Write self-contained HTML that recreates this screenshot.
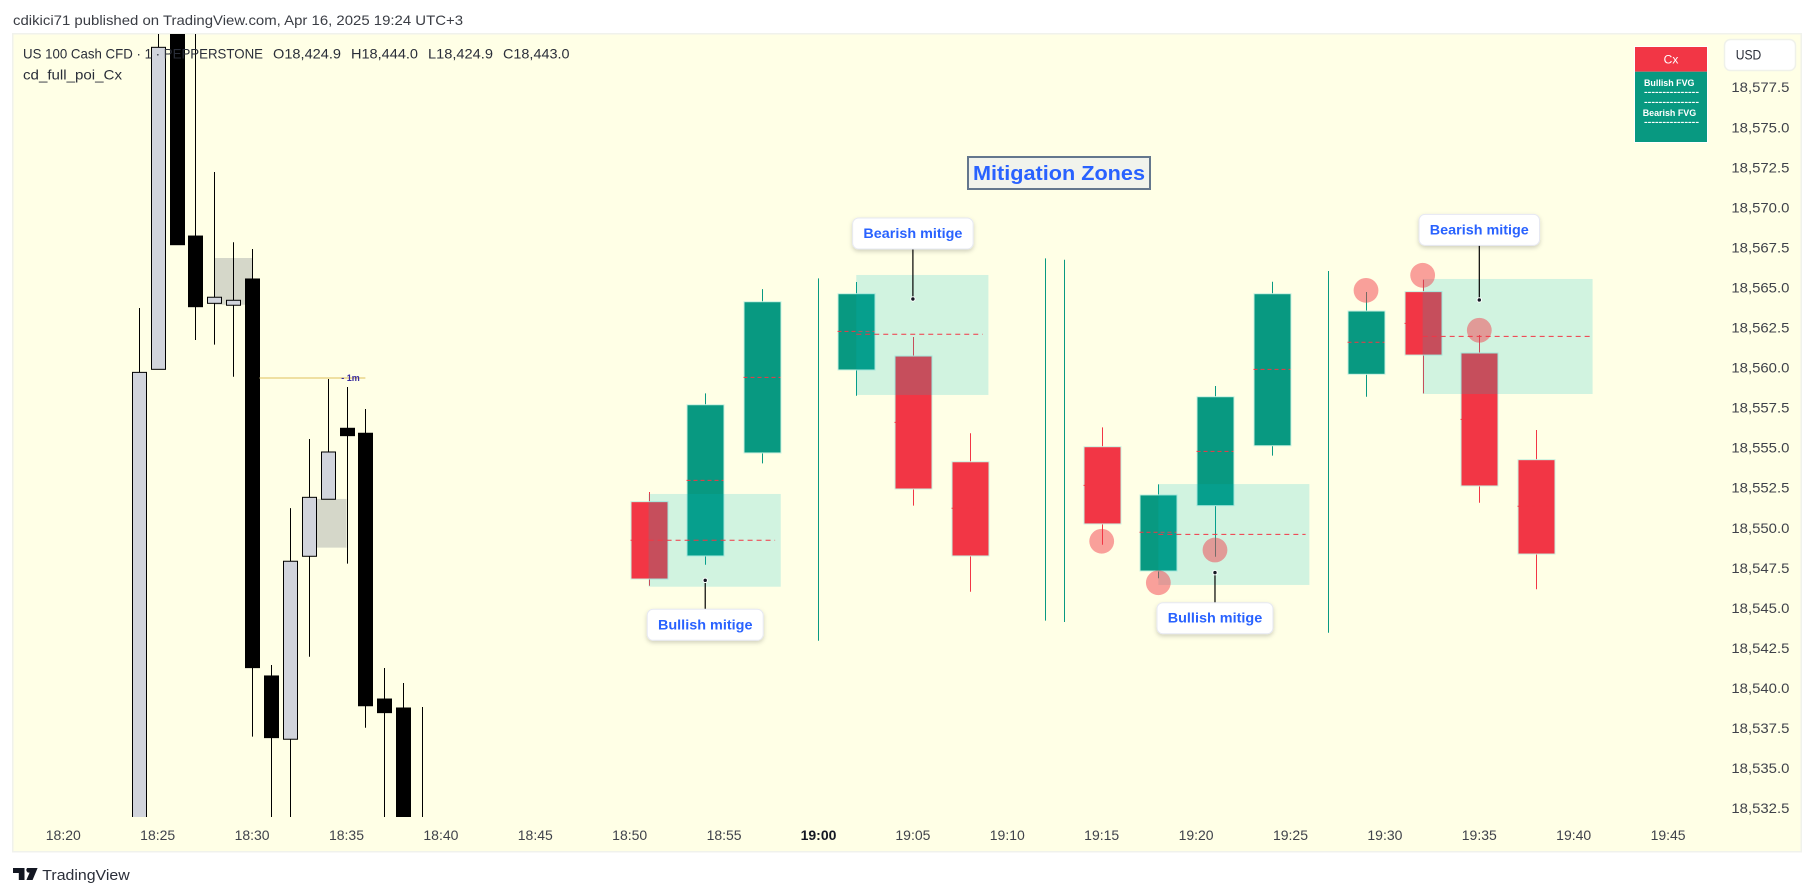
<!DOCTYPE html>
<html lang="en">
<head>
<meta charset="utf-8">
<title>Mitigation Zones chart</title>
<style>
html,body{margin:0;padding:0;background:#fff;width:1814px;height:896px;overflow:hidden}
svg{display:block;font-family:"Liberation Sans",sans-serif}
</style>
</head>
<body>
<svg id="chart" xmlns="http://www.w3.org/2000/svg" width="1814" height="896" viewBox="0 0 1814 896">
  <defs>
    <clipPath id="plot-clip"><rect x="13" y="34" width="1788" height="783"/></clipPath>
    <filter id="soft-shadow" x="-20%" y="-30%" width="140%" height="170%">
      <feDropShadow dx="0" dy="2" stdDeviation="2" flood-color="#000" flood-opacity="0.18"/>
    </filter>
  </defs>
  <text x="13" y="25" font-size="14" fill="#3a3d44" textLength="450" lengthAdjust="spacingAndGlyphs">cdikici71 published on TradingView.com, Apr 16, 2025 19:24 UTC+3</text>
  <rect x="12.75" y="33.75" width="1788.5" height="818" fill="#ffffe6" stroke="#f0f2ec" stroke-width="1.5"/>
  <g id="left-layer" clip-path="url(#plot-clip)"></g>
  <g id="right-layer" clip-path="url(#plot-clip)"></g>
  <g id="zone-layer" clip-path="url(#plot-clip)"></g>
  <g id="marker-layer" clip-path="url(#plot-clip)"></g>
  <g id="callout-layer"></g>
  <g id="y-axis"></g>
  <g id="x-axis"></g>

  <g font-size="14" fill="#2a2e39">
    <text x="23" y="58.5" textLength="240" lengthAdjust="spacingAndGlyphs">US 100 Cash CFD · 1 · PEPPERSTONE</text>
    <text x="273" y="58.5" textLength="68" lengthAdjust="spacingAndGlyphs">O18,424.9</text>
    <text x="351" y="58.5" textLength="67" lengthAdjust="spacingAndGlyphs">H18,444.0</text>
    <text x="428" y="58.5" textLength="65" lengthAdjust="spacingAndGlyphs">L18,424.9</text>
    <text x="503" y="58.5" textLength="66.5" lengthAdjust="spacingAndGlyphs">C18,443.0</text>
    <text x="23" y="79.5" textLength="99" lengthAdjust="spacingAndGlyphs">cd_full_poi_Cx</text>
  </g>

  <g>
    <rect x="968" y="157" width="182" height="32" fill="#f1f3ec" stroke="#64778d" stroke-width="2"/>
    <text x="973" y="180" font-size="20" font-weight="700" fill="#2962ff" textLength="172" lengthAdjust="spacingAndGlyphs">Mitigation Zones</text>
  </g>

  <g>
    <rect x="1634" y="46" width="74" height="97" fill="#fff"/>
    <rect x="1635" y="47" width="72" height="24.7" fill="#f23645"/>
    <rect x="1635" y="71.7" width="72" height="70.3" fill="#089981"/>
    <text x="1671" y="63.5" font-size="12" fill="#fff" text-anchor="middle">Cx</text>
    <g font-size="9" font-weight="700" fill="#fff">
      <text x="1644" y="86" textLength="50.5" lengthAdjust="spacingAndGlyphs">Bullish FVG</text>
      <text x="1644" y="95" textLength="55" lengthAdjust="spacingAndGlyphs">---------------</text>
      <text x="1644" y="105" textLength="55" lengthAdjust="spacingAndGlyphs">---------------</text>
      <text x="1642.7" y="116" textLength="53.5" lengthAdjust="spacingAndGlyphs">Bearish FVG</text>
      <text x="1644" y="125" textLength="55" lengthAdjust="spacingAndGlyphs">---------------</text>
    </g>
  </g>

  <g>
    <rect x="1724.5" y="39.5" width="71" height="31" rx="6" fill="#fff" stroke="#eff1ea" stroke-width="1.5"/>
    <text x="1735.7" y="59.5" font-size="14" fill="#2a2e39" textLength="25.6" lengthAdjust="spacingAndGlyphs">USD</text>
  </g>

  <g>
    <path d="M13 868h11.5v12h-5.7v-7H13zM27.2 868h10.4l-5 12h-6.2l3.2-7.4a2.7 2.7 0 0 1-2.4-4.6z" fill="#131722"/>
    <text x="42.3" y="880" font-size="15" fill="#2a2e39" textLength="87.4" lengthAdjust="spacingAndGlyphs">TradingView</text>
  </g>
</svg>

<script>
/* Price axis tick labels */
const priceTicks = [18577.5, 18575.0, 18572.5, 18570.0, 18567.5, 18565.0, 18562.5, 18560.0, 18557.5, 18555.0, 18552.5, 18550.0, 18547.5, 18545.0, 18542.5, 18540.0, 18537.5, 18535.0, 18532.5];
/* Time axis tick labels */
const timeTicks = ["18:20", "18:25", "18:30", "18:35", "18:40", "18:45", "18:50", "18:55", "19:00", "19:05", "19:10", "19:15", "19:20", "19:25", "19:30", "19:35", "19:40", "19:45"];
const boldTimeTick = "19:00";

/* One-minute candles (left) */
const minuteTimes = ["18:24","18:25","18:26","18:27","18:28","18:29","18:30","18:31","18:32","18:33","18:34","18:35","18:36","18:37","18:38","18:39"];
const minuteOpen  = [18526.8,18559.92,18592,18568.24,18564.04,18563.92,18565.56,18540.78,18536.83,18548.25,18551.81,18556.24,18555.93,18539.34,18538.78,18528];
const minuteHigh  = [18563.75,18590,18594,18590,18572.24,18567.85,18567.43,18541.46,18551.26,18555.57,18559.32,18558.82,18557.44,18541.28,18540.34,18538.84];
const minuteLow   = [18526,18559.92,18567.7,18561.75,18561.46,18559.46,18536.99,18520,18520,18541.98,18551.81,18547.79,18537.55,18520,18519,18520];
const minuteClose = [18559.73,18580.02,18567.7,18563.83,18564.42,18564.23,18541.3,18536.93,18547.94,18551.93,18554.76,18555.78,18538.92,18538.49,18520,18527];

/* Left FVG boxes and the 1m level */
const fvgStart = ["18:28","18:33.4"];
const fvgEnd   = ["18:30","18:35"];
const fvgTop   = [18566.87,18551.83];
const fvgBottom= [18563.95,18548.79];
const levelStart = "18:30.4";
const levelEnd   = "18:36";
const levelPrice = 18559.38;
const levelLabel = "- 1m";

/* Three-minute candles (right) */
const hourlyTimes = ["18:51","18:54","18:57","19:02","19:05","19:08","19:15","19:18","19:21","19:24","19:29","19:32","19:35","19:38"];
const hourlyOpen  = [18551.66,18548.27,18554.7,18559.88,18560.75,18554.15,18555.09,18547.33,18551.41,18555.15,18559.61,18564.77,18560.94,18554.28];
const hourlyHigh  = [18552.26,18558.42,18564.93,18565.37,18561.94,18555.93,18556.3,18552.74,18558.88,18565.39,18564.75,18565.51,18562.06,18556.13];
const hourlyLow   = [18546.41,18547.72,18554.05,18558.27,18551.41,18546.04,18548.97,18546.88,18548.22,18554.53,18558.21,18558.42,18551.59,18546.19];
const hourlyClose = [18546.83,18557.71,18564.14,18564.64,18552.45,18548.27,18550.27,18552.08,18558.21,18564.64,18563.56,18560.81,18552.64,18548.39];
const hourlyMid   = [18549.25,18552.99,18559.42,18562.29,18556.61,18551.25,18552.68,18549.75,18554.8,18559.92,18561.61,18562.79,18556.8,18551.37];

/* Wick-only bars shown as thin verticals */
const wickTimes = ["19:00","19:12","19:13","19:27"];
const wickHigh  = [18565.6,18566.85,18566.76,18566.06];
const wickLow   = [18542.98,18544.23,18544.15,18543.48];

/* Mitigation zones */
const zoneStart = ["18:51","19:02","19:18","19:32"];
const zoneEnd   = ["18:58","19:09","19:26","19:41"];
const zoneMidEnd= ["18:57.7","19:08.7","19:25.8","19:41"];
const zoneTop   = [18552.14,18565.81,18552.76,18565.56];
const zoneBottom= [18546.35,18558.32,18546.46,18558.38];
const zoneMid   = [18549.25,18562.11,18549.62,18561.98];

/* Circle markers */
const markerTimes = ["19:15","19:18","19:21","19:29","19:32","19:35"];
const markerPrice = [18549.19,18546.6,18548.64,18564.85,18565.79,18562.36];

/* Callouts */
const calloutText  = ["Bullish mitige","Bearish mitige","Bullish mitige","Bearish mitige"];
const calloutTimes = ["18:54","19:05","19:21","19:35"];
const calloutDot   = [18546.75,18564.31,18547.23,18564.25];
const calloutEdge  = [18544.94,18567.43,18545.35,18567.66];

const SVG_NS = "http://www.w3.org/2000/svg";
function yOf(price){ return 87.7 + (18577.5 - price) * 16.02; }
function yClamped(price){ return Math.max(24, Math.min(830, yOf(price))); }
function minutesOf(t){ const p = t.split(":"); return (+p[0]) * 60 + parseFloat(p[1]); }
function xOf(t){ return 63.3 + 18.88 * (minutesOf(t) - 1100); }
function make(tag, attrs, parent){
  const el = document.createElementNS(SVG_NS, tag);
  for (const k in attrs) el.setAttribute(k, attrs[k]);
  parent.appendChild(el);
  return el;
}

const leftLayer = document.getElementById("left-layer");
const rightLayer = document.getElementById("right-layer");
const markerLayer = document.getElementById("marker-layer");
const zoneLayer = document.getElementById("zone-layer");
const calloutLayer = document.getElementById("callout-layer");
const yAxis = document.getElementById("y-axis");
const xAxis = document.getElementById("x-axis");

/* Left FVG boxes */
fvgStart.forEach(function(s, i){
  const r = make("rect", {x: xOf(s), y: yOf(fvgTop[i]), width: xOf(fvgEnd[i]) - xOf(s), height: yOf(fvgBottom[i]) - yOf(fvgTop[i]), fill: "#d5d7c9"}, leftLayer);
  
  
});

/* Left candles */
minuteTimes.forEach(function(t, i){
  const x = Math.round(xOf(t)) + 0.5;
  const up = minuteClose[i] >= minuteOpen[i];
  const w = make("line", {x1: x, x2: x, y1: yClamped(minuteHigh[i]), y2: yClamped(minuteLow[i]), stroke: "#000", "stroke-width": 1}, leftLayer);
  
  
  const top = yClamped(Math.max(minuteOpen[i], minuteClose[i]));
  const bot = yClamped(Math.min(minuteOpen[i], minuteClose[i]));
  const b = make("rect", {x: x - 7, y: top, width: 14, height: bot - top, fill: up ? "#d1d4dc" : "#000", stroke: "#000", "stroke-width": 1}, leftLayer);
  
  
});

/* 1m level */
const levelLine = make("line", {x1: xOf(levelStart), x2: xOf(levelEnd), y1: yOf(levelPrice), y2: yOf(levelPrice), stroke: "#ead58a", "stroke-width": 1.5}, leftLayer);


const levelText = make("text", {x: xOf(levelEnd) - 5.6, y: yOf(levelPrice) + 3.2, "font-size": 9, "font-weight": 700, fill: "#3a2ca0", "text-anchor": "end"}, leftLayer);


levelText.textContent = levelLabel;

/* Wick-only verticals */
wickTimes.forEach(function(t, i){
  const x = Math.round(xOf(t)) + 0.5;
  const l = make("line", {x1: x, x2: x, y1: yOf(wickHigh[i]), y2: yOf(wickLow[i]), stroke: "#089981", "stroke-width": 1}, rightLayer);
  
  
});

/* Right candles */
hourlyTimes.forEach(function(t, i){
  const x = Math.round(xOf(t)) + 0.5;
  const up = hourlyClose[i] >= hourlyOpen[i];
  const col = up ? "#089981" : "#f23645";
  const w = make("line", {x1: x, x2: x, y1: yOf(hourlyHigh[i]), y2: yOf(hourlyLow[i]), stroke: col, "stroke-width": 1}, rightLayer);
  
  
  const top = yOf(Math.max(hourlyOpen[i], hourlyClose[i]));
  const bot = yOf(Math.min(hourlyOpen[i], hourlyClose[i]));
  const b = make("rect", {x: x - 18.5, y: top, width: 37, height: bot - top, fill: col, stroke: "#c9f1e0", "stroke-width": 1}, rightLayer);
  
  
  const m = make("line", {x1: x - 19, x2: x + 18, y1: yOf(hourlyMid[i]), y2: yOf(hourlyMid[i]), stroke: "#f23645", "stroke-width": 1, "stroke-dasharray": "4 3"}, rightLayer);
  
  
});

/* Zones */
zoneStart.forEach(function(s, i){
  const x1 = xOf(s), x2 = xOf(zoneEnd[i]);
  const r = make("rect", {x: x1, y: yOf(zoneTop[i]), width: x2 - x1, height: yOf(zoneBottom[i]) - yOf(zoneTop[i]), fill: "#00bcc8", "fill-opacity": 0.18}, zoneLayer);
  
  
  const m = make("line", {x1: x1, x2: xOf(zoneMidEnd[i]), y1: yOf(zoneMid[i]), y2: yOf(zoneMid[i]), stroke: "#f23645", "stroke-width": 1, "stroke-dasharray": "5 4"}, zoneLayer);
  
  
});

/* Circle markers (drawn above the zones) */
markerTimes.forEach(function(t, i){
  const c = make("circle", {cx: xOf(t), cy: yOf(markerPrice[i]), r: 12.4, fill: "#f23645", "fill-opacity": 0.47}, markerLayer);
  
  
});

/* Callouts */
calloutText.forEach(function(label, i){
  const x = xOf(calloutTimes[i]);
  const yDot = yOf(calloutDot[i]);
  const yEdge = yOf(calloutEdge[i]);
  const bullish = yEdge > yDot;
  const boxH = 31;
  const boxW = bullish ? 116 : 120.5;
  const boxY = bullish ? yEdge : yEdge - boxH;
  const line = make("line", {x1: x, x2: x, y1: yDot, y2: yEdge, stroke: "#000", "stroke-width": 1.2}, calloutLayer);
  
  
  const dot = make("circle", {cx: x, cy: yDot, r: 2.2, fill: "#131722", stroke: "#fff", "stroke-width": 1}, calloutLayer);
  
  
  const box = make("rect", {x: x - boxW / 2, y: boxY, width: boxW, height: boxH, rx: 6, fill: "#fff", stroke: "#e6e8f2", "stroke-width": 1, filter: "url(#soft-shadow)"}, calloutLayer);
  
  
  const txt = make("text", {x: x, y: boxY + 20, "font-size": 13.5, "font-weight": 700, fill: "#2962ff", "text-anchor": "middle", textLength: bullish ? 94.5 : 99, lengthAdjust: "spacingAndGlyphs"}, calloutLayer);
  
  
  txt.textContent = label;
});

/* Axes */
priceTicks.forEach(function(p){
  const t = make("text", {x: 1731.4, y: yOf(p) + 4.5, "font-size": 14, fill: "#3f424a", textLength: 58, lengthAdjust: "spacingAndGlyphs"}, yAxis);
  
  
  t.textContent = p.toLocaleString("en-US", {minimumFractionDigits: 1, maximumFractionDigits: 1});
});
timeTicks.forEach(function(label){
  const bold = label === boldTimeTick;
  const t = make("text", {x: xOf(label), y: 840, "font-size": 14, fill: bold ? "#131722" : "#3f424a", "font-weight": bold ? 700 : 400, "text-anchor": "middle"}, xAxis);
  
  
  t.textContent = label;
});
</script>
</body>
</html>
